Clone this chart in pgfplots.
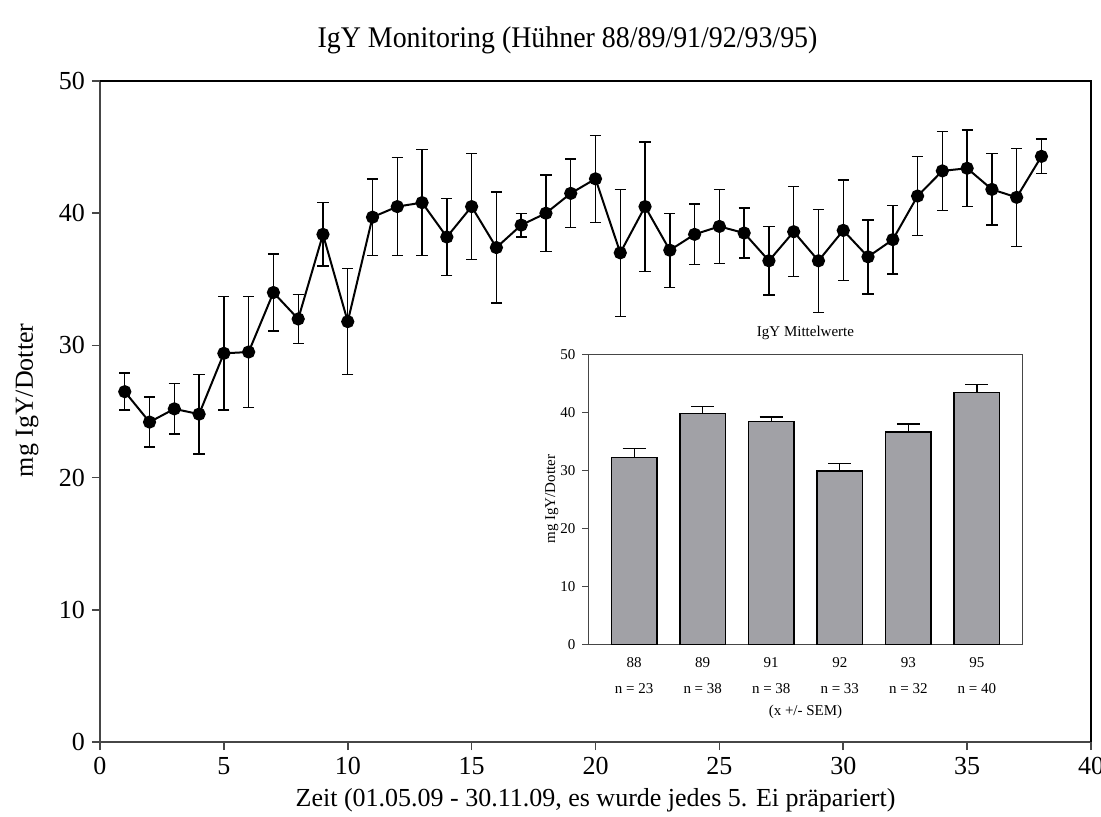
\documentclass[border=0pt]{standalone}
\usepackage{fontspec}
\setmainfont{Liberation Serif}
\usepackage{graphicx}
\usepackage{pgfplots}
\usepackage{pgfplotstable}
\pgfplotsset{compat=1.18}
\definecolor{bargray}{RGB}{161,161,166}
\definecolor{axgray}{RGB}{70,70,70}
\newcommand\ftitle{\fontsize{15bp}{17bp}\selectfont}
\newcommand\fmain{\fontsize{13bp}{15bp}\selectfont}
\newcommand\fsmall{\fontsize{7.5bp}{9bp}\selectfont}

% main series: sample no., mean, error
\pgfplotstableread{
x y e
1 26.5 1.4
2 24.2 1.9
3 25.2 1.9
4 24.8 3.0
5 29.4 4.3
6 29.5 4.2
7 34.0 2.9
8 32.0 1.85
9 38.4 2.4
10 31.8 4.0
11 39.7 2.9
12 40.5 3.7
13 40.8 4.0
14 38.2 2.9
15 40.5 4.0
16 37.4 4.2
17 39.1 0.9
18 40.0 2.9
19 41.5 2.6
20 42.6 3.3
21 37.0 4.8
22 40.5 4.9
23 37.2 2.8
24 38.4 2.3
25 39.0 2.8
26 38.5 1.9
27 36.4 2.6
28 38.6 3.4
29 36.4 3.9
30 38.7 3.8
31 36.7 2.8
32 38.0 2.6
33 41.3 3.0
34 43.2 3.0
35 43.4 2.9
36 41.8 2.7
37 41.2 3.7
38 44.3 1.3
}\mainData

% inset: mean per hen (88,89,91,92,93,95)
\pgfplotstableread{
k y e
0 32.2 1.6
1 39.8 1.2
2 38.4 0.8
3 29.9 1.25
4 36.6 1.4
5 43.4 1.4
}\meanData

\begin{document}
\begin{tikzpicture}
\path[use as bounding box] (-50bp,-37.5bp) rectangle (500.5bp,371bp);
\begin{axis}[
  at={(0,0)}, anchor=south west,
  scale only axis, width=495.5bp, height=330.5bp,
  xmin=0, xmax=40, ymin=0, ymax=50,
  xtick={0,5,...,40}, ytick={0,10,...,50},
  axis x line*=bottom, axis y line*=left,
  axis line style={draw=axgray, line width=0.8bp},
  tick style={draw=axgray, line width=0.8bp},
  major tick length=4bp, tick align=outside,
  ticklabel style={font=\fmain},
  /pgf/number format/assume math mode=true,
  xlabel={Zeit (01.05.09 - 30.11.09, es wurde jedes 5. Ei präpariert)},
  ylabel={mg IgY/Dotter},
  label style={font=\fmain},
  xlabel style={at={(axis description cs:0.5,0)}, anchor=center, yshift=-29bp},
  ylabel style={at={([xshift=-36.5bp]axis description cs:0,0.517)}, anchor=center},
  clip=false,
]
\draw[black, line width=0.8bp] (rel axis cs:0,1) -- (rel axis cs:1,1) -- (rel axis cs:1,0);
\addplot[black, line width=1bp, mark=*, mark size=2.8bp, mark options={fill=black},
  error bars/.cd, y dir=both, y explicit,
  error bar style={line width=0.7bp, black},
  error mark options={rotate=90, mark size=2.8bp, line width=0.7bp, black}]
  table[x=x, y=y, y error=e]{\mainData};
\end{axis}

\node at (233.75bp,351bp) {\ftitle\scalebox{0.93}[1]{IgY Monitoring (Hühner 88/89/91/92/93/95)}};

\begin{axis}[
  at={(244.15bp,48.85bp)}, anchor=south west,
  scale only axis, width=217.2bp, height=145bp,
  xmin=-0.67, xmax=5.67, ymin=0, ymax=50,
  ytick={0,10,...,50}, xtick={0,...,5},
  xticklabels={88,89,91,92,93,95},
  ytick pos=left, xtick style={draw=none},
  axis line style={draw=axgray, line width=0.6bp},
  ytick style={draw=axgray, line width=0.6bp},
  major tick length=3bp, tick align=outside,
  ticklabel style={font=\fsmall},
  /pgf/number format/assume math mode=true,
  ylabel={mg IgY/Dotter},
  ylabel style={font=\fsmall, at={([xshift=-18.3bp]axis description cs:0,0.5)}, anchor=center},
  clip=false,
]
\addplot[ybar, bar width=22.65bp, fill=bargray, draw=black, line width=0.7bp,
  error bars/.cd, y dir=plus, y explicit,
  error bar style={black, line width=0.7bp},
  error mark options={rotate=90, mark size=5.75bp, line width=0.7bp, black}]
  table[x=k, y=y, y error=e]{\meanData};
\node[font=\fsmall, yshift=10.6bp] at (rel axis cs:0.5,1) {IgY Mittelwerte};
\node[font=\fsmall, yshift=-22.35bp] at (axis cs:0,0) {n = 23};
\node[font=\fsmall, yshift=-22.35bp] at (axis cs:1,0) {n = 38};
\node[font=\fsmall, yshift=-22.35bp] at (axis cs:2,0) {n = 38};
\node[font=\fsmall, yshift=-22.35bp] at (axis cs:3,0) {n = 33};
\node[font=\fsmall, yshift=-22.35bp] at (axis cs:4,0) {n = 32};
\node[font=\fsmall, yshift=-22.35bp] at (axis cs:5,0) {n = 40};
\node[font=\fsmall, yshift=-33.85bp] at (rel axis cs:0.5,0) {(x +/- SEM)};
\end{axis}
\end{tikzpicture}
\end{document}
